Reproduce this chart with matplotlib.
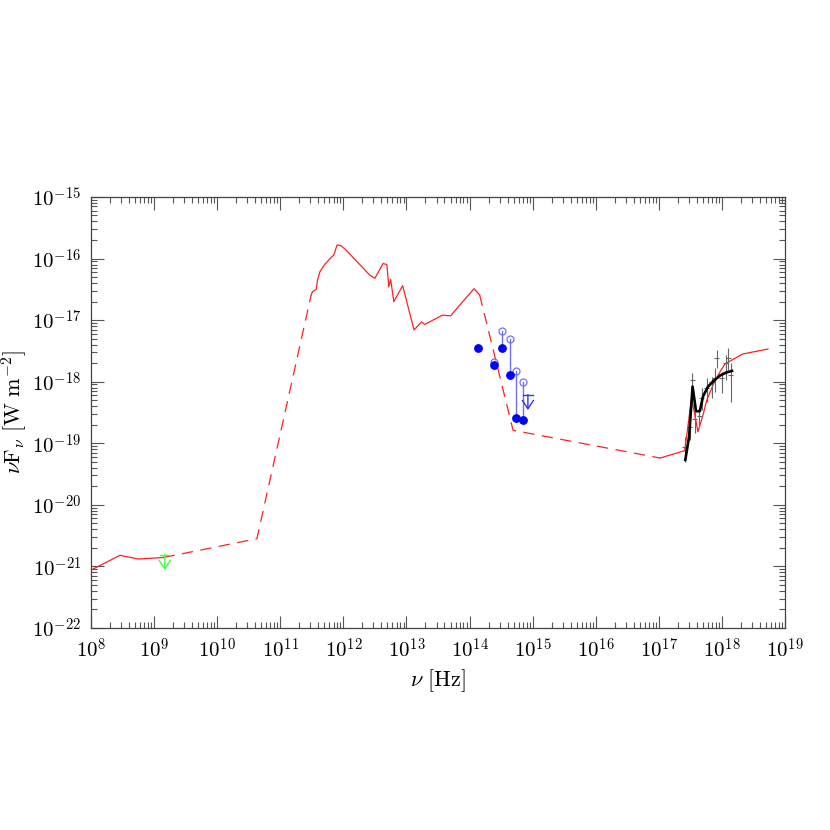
import numpy as np
import matplotlib.pyplot as plt
from matplotlib.ticker import LogLocator, FuncFormatter, NullFormatter

plt.rcParams['mathtext.fontset'] = 'cm'
plt.rcParams['font.family'] = ['DejaVu Serif']

# red model (log10 nu [Hz], log10 nuFnu [W m^-2]), split into solid / dashed parts
radio_lognu = [8.0, 8.46, 8.75, 9.15]
radio_logf = [-21.06, -20.82, -20.88, -20.855]
gap1_lognu = [9.15, 10.63, 11.49]
gap1_logf = [-20.855, -20.55, -16.59]
ir_lognu = [11.49, 11.51, 11.57, 11.59, 11.63, 11.71, 11.79, 11.85, 11.90, 11.96,
            12.03, 12.42, 12.50, 12.63, 12.69, 12.72, 12.75, 12.80, 12.94, 13.12,
            13.24, 13.29, 13.57, 13.70, 14.07, 14.16]
ir_logf = [-16.59, -16.54, -16.50, -16.35, -16.21, -16.09, -16.00, -15.94, -15.78, -15.79,
           -15.85, -16.27, -16.32, -16.08, -16.10, -16.46, -16.34, -16.70, -16.44, -17.16,
           -17.03, -17.07, -16.92, -16.93, -16.49, -16.59]
gap2_lognu = [14.16, 14.69, 17.02]
gap2_logf = [-16.59, -18.79, -19.24]
xray_lognu = [17.02, 17.41, 17.52, 17.62, 17.70, 17.76, 17.86, 17.97, 18.05, 18.33, 18.73]
xray_logf = [-19.24, -19.12, -18.26, -18.815, -18.54, -18.30, -18.05, -17.84, -17.71, -17.55, -17.47]

# black X-ray fit
fit_lognu = [17.42, 17.48, 17.535, 17.59, 17.65, 17.70, 17.78, 17.86, 17.97, 18.07, 18.16]
fit_logf = [-19.27, -18.89, -18.08, -18.48, -18.48, -18.24, -18.08, -17.995, -17.90, -17.85, -17.825]

# X-ray data with error bars
xd_lognu = [17.414, 17.493, 17.529, 17.572, 17.640, 17.678, 17.758, 17.837, 17.889, 17.916,
            17.995, 18.059, 18.100, 18.143]
xd_logf = [-19.054, -18.729, -17.971, -18.604, -18.555, -18.263, -18.100, -17.998, -17.943, -17.619,
           -17.943, -17.700, -17.619, -17.890]
xd_loglo = [-19.297, -18.945, -18.247, -18.836, -18.700, -18.458, -18.323, -18.268, -18.161, -17.781,
            -18.187, -17.971, -17.808, -18.323]
xd_loghi = [-18.891, -18.567, -17.857, -18.485, -18.425, -18.100, -17.940, -17.917, -17.781, -17.484,
            -17.836, -17.565, -17.456, -17.700]

# optical / NIR points: dereddened (filled) and corrected (open)
opt_lognu = [14.14, 14.39, 14.52, 14.64, 14.735, 14.84]
opt_logf = [-17.46, -17.73, -17.45, -17.89, -18.59, -18.62]
corr_lognu = [14.39, 14.52, 14.64, 14.735, 14.84]
corr_logf = [-17.68, -17.18, -17.31, -17.82, -18.00]

# upper limits: (log nu, log bar, log tip)
uv_limit = (14.925, -18.21, -18.46)
radio_limit = (9.17, -20.81, -21.06)


def p(a):
    return 10 ** np.asarray(a)


fig = plt.figure(figsize=(8.3, 8.3), dpi=100)
ax = fig.add_axes([0.1096, 0.2434, 0.8362, 0.5193])

red = '#ff2020'
ax.plot(p(radio_lognu), p(radio_logf), color=red, lw=0.9)
ax.plot(p(gap1_lognu), p(gap1_logf), color=red, lw=0.9, dashes=(9, 6))
ax.plot(p(ir_lognu), p(ir_logf), color=red, lw=0.9)
ax.plot(p(gap2_lognu), p(gap2_logf), color=red, lw=0.9, dashes=(9, 6))
ax.plot(p(xray_lognu), p(xray_logf), color=red, lw=0.9)

# X-ray data
xn = p(xd_lognu)
xf = p(xd_logf)
ax.errorbar(xn, xf, yerr=[xf - p(xd_loglo), p(xd_loghi) - xf],
            xerr=[xn * (1 - 10 ** -0.04), xn * (10 ** 0.04 - 1)],
            fmt='none', ecolor='#666666', elinewidth=0.8, capsize=0)
ax.plot(p(fit_lognu), p(fit_logf), color='black', lw=1.9)

# optical points
light = '#7070ff'
for nu, f in zip(corr_lognu, corr_logf):
    k = opt_lognu.index(nu)
    ax.plot([p(nu), p(nu)], [p(opt_logf[k]), p(f)], color=light, lw=1.0)
ax.plot(p(corr_lognu), p(corr_logf), 'o', mfc='none', mec=light, ms=5, mew=0.9)
ax.plot(p(opt_lognu), p(opt_logf), 'o', color='#0000ff', ms=5.3)

# upper limits
for (nu, bar, tip), col in [(uv_limit, '#3030ff'), (radio_limit, '#40ff40')]:
    ax.plot([p(nu - 0.08), p(nu + 0.08)], [p(bar), p(bar)], color=col, lw=1.0)
    ax.annotate('', xy=(p(nu), p(tip)), xytext=(p(nu), p(bar)),
                arrowprops=dict(arrowstyle='->,head_length=0.6,head_width=0.4', color=col, lw=1.0,
                                shrinkA=0, shrinkB=0))

ax.set_xscale('log')
ax.set_yscale('log')
ax.set_xlim(1e8, 1e19)
ax.set_ylim(1e-22, 1e-15)

for axis in (ax.xaxis, ax.yaxis):
    axis.set_major_locator(LogLocator(base=10, numticks=30))
    axis.set_minor_locator(LogLocator(base=10, subs=np.arange(2, 10), numticks=300))
    axis.set_minor_formatter(NullFormatter())
    axis.set_major_formatter(FuncFormatter(lambda v, pos: r'$10^{%d}$' % round(np.log10(v))))

ax.tick_params(which='both', direction='in', top=True, right=True, color='#555555', width=0.8,
               labelsize=15)
ax.tick_params(which='major', length=9, pad=7)
ax.tick_params(which='minor', length=4.5)
for s in ax.spines.values():
    s.set_color('#444444')
    s.set_linewidth(0.9)

ax.set_xlabel(r'$\nu\ [\mathrm{Hz}]$', fontsize=16, labelpad=4)
ax.set_ylabel(r'$\nu\mathrm{F}_\nu\ [\mathrm{W\ m^{-2}}]$', fontsize=16, labelpad=2)

fig.savefig('out.png', dpi=100)
